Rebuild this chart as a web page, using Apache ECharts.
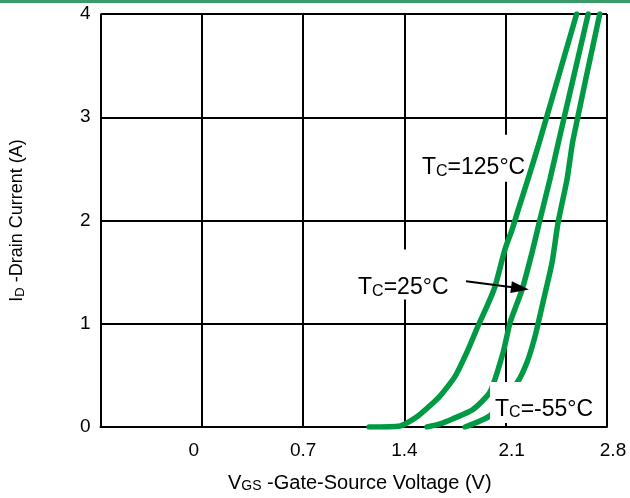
<!DOCTYPE html>
<html>
<head>
<meta charset="utf-8">
<script src="https://cdn.jsdelivr.net/npm/echarts@6/dist/echarts.min.js"></script>
<style>html,body{margin:0;padding:0;background:#fff}#c{width:630px;height:498px}</style>
</head>
<body>
<div id="c"></div>
<script>
// Transfer characteristics: [VGS (V), ID (A)]
var curve125 = [[1.156,0],[1.37,0.01],[1.494,0.106],[1.646,0.30],[1.75,0.49],[1.84,0.75],[1.909,0.98],[1.971,1.17],[2.026,1.36],[2.095,1.72],[2.146,1.92],[2.19,2.12],[2.254,2.40],[2.337,2.78],[2.59,4.0]];
var curve25 = [[1.556,0],[1.646,0.03],[1.736,0.08],[1.874,0.17],[1.992,0.34],[2.082,0.72],[2.13,1.01],[2.213,1.33],[2.282,1.69],[2.337,2.01],[2.406,2.40],[2.468,2.78],[2.67,4.0]];
var curveM55 = [[1.819,0],[1.992,0.11],[2.179,0.43],[2.248,0.63],[2.303,0.88],[2.358,1.21],[2.42,1.59],[2.462,1.98],[2.524,2.40],[2.565,2.78],[2.75,4.0]];
var xTicks = [-0.7, 0, 0.7, 1.4, 2.1, 2.8];
var xTickLabels = ['', '0', '0.7', '1.4', '2.1', '2.8'];
var yTicks = [0, 1, 2, 3, 4];
var labelNames = ['=125°C', '=25°C', '=-55°C'];
var labelAnchors = [[1.494, 2.604], [1.066, 1.478], [1.992, 0.237]];
var arrowFrom = [1.826, 1.411];
var arrowTo = [2.199, 1.343];

var green = '#009a44';
var chart = echarts.init(document.getElementById('c'));
var font = 'Liberation Sans, Arial, sans-serif';
var pads = [[21,0,2,4],[26,2,0,2],[15,4,2,5]];
// small horizontal offsets of the printed tick labels (style, px)
var xLabelStyle = ['c', 'l', 'c', 'c', 'r', 'r'];

function lineSeries(d){
  return {type:'line', data:d, smooth:0.2, showSymbol:false, symbol:'none', z:3,
    lineStyle:{color:green, width:5.5, cap:'round'}, silent:true};
}
function labelSeries(idx, z){
  return {type:'scatter', z:z, silent:true, symbolSize:0, itemStyle:{opacity:1},
    data:idx.map(function(i){
      return {value:labelAnchors[i], label:{padding:pads[i]}, name:labelNames[i]};
    }),
    label:{show:true, position:'right', distance:0, backgroundColor:'#fff', opacity:1,
      formatter:function(p){ return '{t|T}{s|C}{t|' + p.name + '}'; },
      rich:{t:{fontSize:23, fontFamily:font, color:'#000', verticalAlign:'bottom', lineHeight:24},
            s:{fontSize:16, fontFamily:font, color:'#000', verticalAlign:'bottom', lineHeight:20}}}
  };
}
var nameRich = {m:{fontSize:18, fontFamily:font, color:'#000', verticalAlign:'bottom', lineHeight:20},
                s:{fontSize:13, fontFamily:font, color:'#000', verticalAlign:'bottom', lineHeight:17}};
var xNameRich = {m:{fontSize:20, fontFamily:font, color:'#000', verticalAlign:'bottom', lineHeight:22},
                 s:{fontSize:14, fontFamily:font, color:'#000', verticalAlign:'bottom', lineHeight:18}};
var tickRich = {
  c:{fontSize:19, fontFamily:font, color:'#000'},
  l:{fontSize:19, fontFamily:font, color:'#000', padding:[0,16,0,0]},
  r:{fontSize:19, fontFamily:font, color:'#000', padding:[0,0,0,12]}
};

chart.setOption({
  animation:false,
  graphic:[{type:'rect', left:0, top:0, shape:{width:630, height:3}, style:{fill:'#3a9a6a'}}],
  grid:{left:100.5, right:23, top:14, bottom:70, show:false},
  xAxis:{type:'value', min:xTicks[0], max:xTicks[xTicks.length-1], interval:0.7,
    axisLine:{show:true, onZero:false, lineStyle:{color:'#000', width:2}},
    axisTick:{show:false},
    splitLine:{show:true, lineStyle:{color:'#000', width:2}},
    axisLabel:{margin:14, color:'#000', fontSize:19, fontFamily:font, rich:tickRich,
      formatter:function(v){
        var i = Math.round((v - xTicks[0]) / 0.7);
        return xTickLabels[i] ? '{' + xLabelStyle[i] + '|' + xTickLabels[i] + '}' : '';
      }},
    name:'{m|V}{s|GS}{m| -Gate-Source Voltage (V)}', nameLocation:'middle', nameGap:44,
    nameTextStyle:{rich:xNameRich, padding:[0,0,0,12]}
  },
  yAxis:{type:'value', min:yTicks[0], max:yTicks[yTicks.length-1], interval:1,
    axisLine:{show:true, lineStyle:{color:'#000', width:2}},
    axisTick:{show:false},
    splitLine:{show:true, lineStyle:{color:'#000', width:2}},
    axisLabel:{margin:10, color:'#000', fontSize:19, fontFamily:font},
    name:'{m|I}{s|D}{m| -Drain Current (A)}', nameLocation:'middle', nameGap:74, nameRotate:90,
    nameTextStyle:{rich:nameRich}
  },
  series:[
    labelSeries([0,1], 2),
    lineSeries(curve125), lineSeries(curve25), lineSeries(curveM55),
    labelSeries([2], 5),
    {type:'line', data:[], z:6, silent:true,
      markLine:{silent:true, symbol:['none','triangle'], symbolSize:[12,18], animation:false,
        lineStyle:{color:'#000', width:2, type:'solid'}, label:{show:false},
        data:[[{coord:arrowFrom},{coord:arrowTo}]]}}
  ]
});
</script>
</body>
</html>
